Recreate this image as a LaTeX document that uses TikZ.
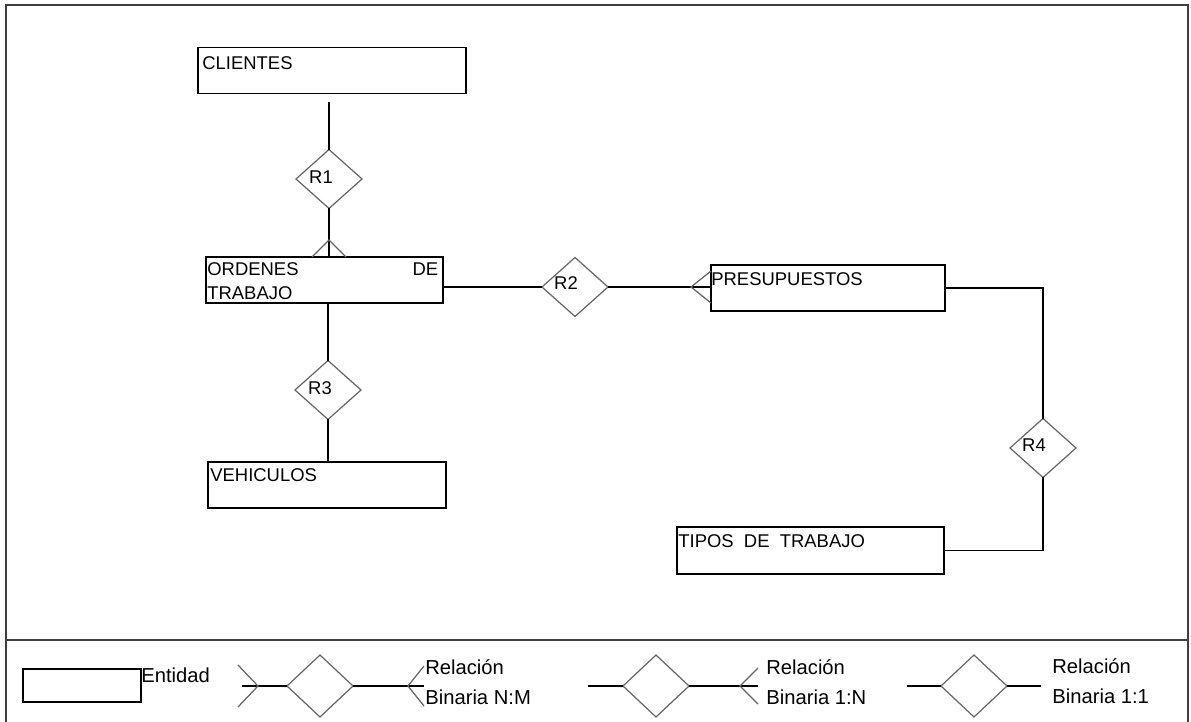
\documentclass[tikz,border=0pt]{standalone}
\usepackage{fontspec}
\setmainfont{Liberation Sans}
\usetikzlibrary{shapes.geometric,calc}

\begin{document}
\begin{tikzpicture}[x=0.02cm,y=-0.02cm,
	entidad/.style={draw,rectangle,line width=0.8pt,inner sep=0pt,outer sep=0pt,minimum height=0.92cm},
	relacion/.style={draw=black!60,diamond,line width=0.7pt,inner sep=0pt,outer sep=0pt,minimum width=1.32cm,minimum height=1.18cm},
	txt/.style={inner sep=0pt,anchor=base west,font=\fontsize{10.5}{13.7}\selectfont},
	rtxt/.style={inner sep=0pt,font=\fontsize{10.5}{12}\selectfont},
	ltxt/.style={inner sep=0pt,anchor=base west,font=\fontsize{11.5}{14}\selectfont},
	linea/.style={line width=0.8pt},
	pata/.style={draw=black!60,line width=0.7pt},
	marco/.style={draw=black!75,line width=1.2pt}
	]
	\useasboundingbox (0,0) rectangle (1191,722);
	\draw[marco] (6,722) -- (6,5) -- (1188,5) -- (1188,722);
	\draw[marco] (6,640) -- (1188,640);

	\node[entidad,minimum width=5.36cm] (cli) at (332,70.5) {};
	\node[entidad,minimum width=4.74cm] (ord) at (324.5,280) {};
	\node[entidad,minimum width=4.68cm] (pre) at (828,288) {};
	\node[entidad,minimum width=4.76cm] (veh) at (327,485) {};
	\node[entidad,minimum width=5.34cm,minimum height=0.94cm] (tip) at (810.5,550.5) {};

	\node[txt] (tcli) at (202,70) {CLIENTES};
	\node[txt,anchor=north west,text width=4.62cm,align=left] (tord) at (207,262) {ORDENES\hfill DE\\TRABAJO};
	\node[txt] (tpre) at (711,286) {PRESUPUESTOS};
	\node[txt] (tveh) at (210,482) {VEHICULOS};
	\node[txt] (ttip) at (678,548) {TIPOS\ \ DE\ \ TRABAJO};

	\node[relacion] (r1) at (329,179) {};
	\node[relacion] (r2) at (575,287) {};
	\node[relacion] (r3) at (328,390) {};
	\node[relacion] (r4) at (1043,448) {};
	\node[rtxt] (tr1) at ($(r1)+(-8,-2)$) {R1};
	\node[rtxt] (tr2) at ($(r2)+(-9,-4)$) {R2};
	\node[rtxt] (tr3) at ($(r3)+(-8,-2)$) {R3};
	\node[rtxt] (tr4) at ($(r4)+(-9,-3)$) {R4};

	\draw[linea] ($(r1.north |- cli.south)+(0,9)$) -- (r1.north);
	\draw[linea] (r1.south) -- (r1.south |- ord.north);
	\draw[pata] ($(r1.south |- ord.north)+(-17,0)$) -- ++(17,-17) -- ++(17,17);
	\draw[linea] (ord.east |- r2.west) -- (r2.west);
	\draw[linea] (r2.east) -- (r2.east -| pre.west);
	\draw[pata] ($(r2.east -| pre.west)+(0,-16)$) -- ++(-20,16) -- ++(20,16);
	\draw[linea] (pre.east) -- (pre.east -| r4.north) -- (r4.north);
	\draw[linea] (r4.south) -- (r4.south |- tip.east) -- (tip.east);
	\draw[linea] (ord.south -| r3.north) -- (r3.north);
	\draw[linea] (r3.south) -- (r3.south |- veh.north);

	\node[draw,rectangle,line width=0.8pt,inner sep=0pt,minimum width=2.36cm,minimum height=0.66cm] (lent) at (82,685.5) {};
	\node[ltxt] (tent) at (141,683) {Entidad};

	\node[relacion,minimum height=1.24cm] (lnm) at (320,686) {};
	\coordinate (nm1) at (242,686);
	\coordinate (nm2) at (424,686);
	\draw[linea] (nm1) -- (lnm.west);
	\draw[pata] ($(nm1)+(-4,-21)$) -- ++(20,21) -- ++(-20,21);
	\draw[linea] (lnm.east) -- (nm2);
	\draw[pata] ($(nm2)+(0,-20)$) -- ++(-16,20) -- ++(16,20);
	\node[ltxt] (tnm1) at (425,675) {Relación};
	\node[ltxt] (tnm2) at (425,705) {Binaria N:M};

	\node[relacion,minimum height=1.24cm] (l1n) at (656,686) {};
	\coordinate (un1) at (588,686);
	\coordinate (un2) at (758,686);
	\draw[linea] (un1) -- (l1n.west);
	\draw[linea] (l1n.east) -- (un2);
	\draw[pata] ($(un2)+(0,-18)$) -- ++(-18,18) -- ++(18,18);
	\node[ltxt] (t1n1) at (766,675) {Relación};
	\node[ltxt] (t1n2) at (766,705) {Binaria 1:N};

	\node[relacion,minimum height=1.24cm] (l11) at (974,686) {};
	\coordinate (uu1) at (907,686);
	\coordinate (uu2) at (1041,686);
	\draw[linea] (uu1) -- (l11.west);
	\draw[linea] (l11.east) -- (uu2);
	\node[ltxt] (t111) at (1052,674) {Relación};
	\node[ltxt] (t112) at (1052,704) {Binaria 1:1};
\end{tikzpicture}
\end{document}
